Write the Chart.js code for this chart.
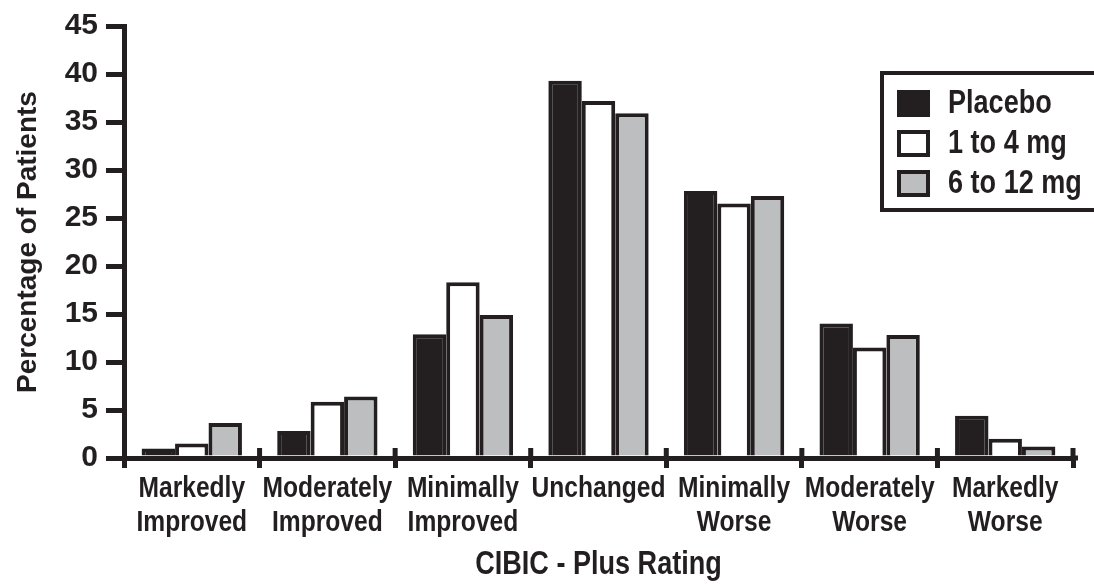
<!DOCTYPE html>
<html>
<head>
<meta charset="utf-8">
<script src="https://cdn.jsdelivr.net/npm/chart.js@4"></script>
<style>
  body { margin: 0; background: #fff; }
  #wrap { width: 1094px; height: 584px; position: relative; }
</style>
</head>
<body>
<div id="wrap"><canvas id="cibicChart"></canvas></div>
<script>
const categories = [
  ['Markedly', 'Improved'],
  ['Moderately', 'Improved'],
  ['Minimally', 'Improved'],
  ['Unchanged'],
  ['Minimally', 'Worse'],
  ['Moderately', 'Worse'],
  ['Markedly', 'Worse']
]
const seriesNames = ['Placebo', '1 to 4 mg', '6 to 12 mg']
const placebo = [1.0, 2.8, 12.9, 39.3, 27.8, 14.0, 4.4]
const lowDose = [1.5, 5.85, 18.3, 37.2, 26.5, 11.5, 2.0]
const highDose = [3.65, 6.4, 14.9, 35.9, 27.3, 12.8, 1.2]
const yTicks = [0, 5, 10, 15, 20, 25, 30, 35, 40, 45]
const xTitle = 'CIBIC - Plus Rating'

const INK = '#231f20'
const GREY = '#bcbec0'
const FONT = '"Liberation Sans", Arial, sans-serif'
const SQUEEZE = 0.82 // no condensed face installed, so squash the bold sans

function narrowText(ctx, text, x, y, size, align) {
  ctx.save()
  ctx.translate(x, y)
  ctx.scale(SQUEEZE, 1)
  ctx.font = 'bold ' + size + 'px ' + FONT
  ctx.textAlign = align
  ctx.textBaseline = 'middle'
  ctx.fillStyle = INK
  ctx.fillText(text, 0, 0)
  ctx.restore()
}

// category labels + axis title in the condensed style of the original,
// plus the little stubs where the category ticks cross over the axis
const narrowLabels = {
  id: 'narrowLabels',
  afterDraw(chart) {
    const ctx = chart.ctx
    const xs = chart.scales.x
    const half = (xs.getPixelForTick(1) - xs.getPixelForTick(0)) / 2
    const base = chart.chartArea.bottom
    ctx.save()
    ctx.strokeStyle = INK
    ctx.lineWidth = 5
    ctx.beginPath()
    for (let i = 0; i < chart.data.labels.length; i++) {
      const bx = xs.getPixelForTick(i) + half
      ctx.moveTo(bx, base - 10)
      ctx.lineTo(bx, base)
    }
    ctx.moveTo(xs.right, base)
    ctx.lineTo(xs.right + 5, base)
    ctx.stroke()
    ctx.restore()

    chart.data.labels.forEach(function (lines, i) {
      const cx = xs.getPixelForTick(i)
      lines.forEach(function (line, j) {
        narrowText(ctx, line, cx, 489 + j * 34, 30, 'center')
      })
    })
    narrowText(ctx, xTitle, (xs.left + xs.right) / 2, 565, 33, 'center')
  }
}

// legend drawn as a boxed panel, top right, running off the edge like the original
const boxedLegend = {
  id: 'boxedLegend',
  afterDraw(chart) {
    const ctx = chart.ctx
    ctx.save()
    ctx.lineWidth = 4
    ctx.strokeStyle = INK
    ctx.strokeRect(882, 73, 240, 137)
    chart.data.datasets.forEach(function (ds, i) {
      const y = 103 + i * 40
      ctx.fillStyle = ds.backgroundColor
      ctx.fillRect(897, y - 13, 33, 27)
      ctx.lineWidth = 4
      ctx.strokeStyle = INK
      ctx.strokeRect(899, y - 11, 29, 23)
      narrowText(ctx, ds.label, 948, y + 1, 33, 'left')
    })
    ctx.restore()
  }
}

const ctx = document.getElementById('cibicChart').getContext('2d')

new Chart(ctx, {
  type: 'bar',
  data: {
    labels: categories,
    datasets: [
      { label: seriesNames[0], data: placebo, backgroundColor: INK },
      { label: seriesNames[1], data: lowDose, backgroundColor: '#ffffff' },
      { label: seriesNames[2], data: highDose, backgroundColor: GREY }
    ].map(function (d) {
      return Object.assign(d, {
        borderColor: INK,
        borderWidth: 4,
        categoryPercentage: 0.74,
        barPercentage: 1.0
      })
    })
  },
  options: {
    responsive: true,
    maintainAspectRatio: false,
    animation: false,
    layout: { padding: { top: 20, right: 21, bottom: 0, left: 0 } },
    plugins: {
      legend: { display: false },
      tooltip: { enabled: false }
    },
    scales: {
      x: {
        afterFit: function (s) { s.height = 126 },
        grid: {
          display: true,
          offset: true,
          drawOnChartArea: false,
          tickLength: 10,
          lineWidth: 5,
          color: INK
        },
        border: { display: true, width: 5, color: INK },
        ticks: { display: false, autoSkip: false },
        title: { display: false }
      },
      y: {
        min: 0,
        max: 45,
        afterFit: function (s) { s.width = 124 },
        afterBuildTicks: function (s) {
          s.ticks = yTicks.map(function (v) { return { value: v } })
        },
        grid: {
          display: true,
          drawOnChartArea: false,
          tickLength: 18,
          lineWidth: 5,
          color: INK
        },
        border: { display: true, width: 5, color: INK },
        ticks: {
          color: INK,
          padding: 8,
          font: { family: FONT, size: 30, weight: 'bold' }
        },
        title: {
          display: true,
          text: 'Percentage of Patients',
          color: INK,
          padding: { top: 11, bottom: 0 },
          font: { family: FONT, size: 28, weight: 'bold', lineHeight: 1.2 }
        }
      }
    }
  },
  plugins: [narrowLabels, boxedLegend]
})
</script>
</body>
</html>
